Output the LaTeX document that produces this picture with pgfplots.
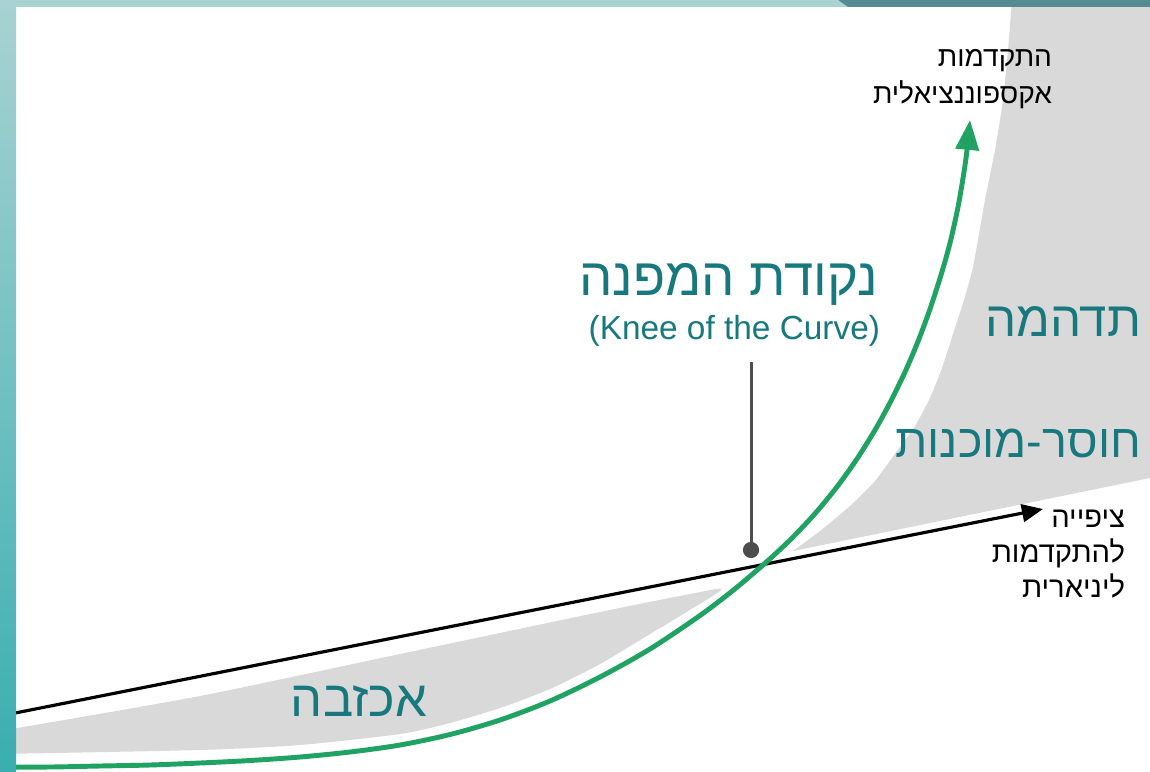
\documentclass[border=0pt]{standalone}
\usepackage{pgfplots}
\pgfplotsset{compat=1.18}
\usetikzlibrary{arrows.meta}
\usepackage{fontspec}
\setmainfont{Liberation Sans}
\newfontfamily\hebfont[Script=Hebrew]{Liberation Sans}
\TeXXeTstate=1
\newcommand{\heb}[1]{{\hebfont\beginR #1\endR}}

\definecolor{tealtext}{HTML}{17787D}
\definecolor{curvegreen}{HTML}{1FA262}
\definecolor{shade}{HTML}{D9D9D9}
\definecolor{frameA}{HTML}{A9D2D2}
\definecolor{frameB}{HTML}{3AAEB0}
\definecolor{frameC}{HTML}{558A90}
\definecolor{stem}{HTML}{4D4D4D}

\tikzset{lbl/.style={inner sep=0pt, outer sep=0pt}}

\begin{document}
\begin{tikzpicture}
\begin{axis}[
    width=11.5cm, height=7.71cm, scale only axis,
    xmin=0, xmax=1150, ymin=0, ymax=771,
    y dir=reverse,
    hide axis,
    clip=true,
]
% background
\addplot[fill=white, draw=none] coordinates {(0,0) (1150,0) (1150,771) (0,771)} -- cycle;

% gray area: disappointment (below the line)
\addplot[fill=shade, draw=none, smooth, tension=0.4] coordinates {
    (0,731) (200,696) (400,654) (600,612) (690,594) (722,589)
    (690,610) (650,634) (600,664) (550,689) (500,708) (450,723)
    (400,734) (300,745) (200,750) (0,754)
} -- cycle;

% gray area: surprise / unpreparedness (above the line)
\addplot[fill=shade, draw=none, smooth, tension=0.3] coordinates {
    (793,551) (820,531) (850,506) (875,481) (897,451) (915,426)
    (929,400) (942,368) (953,334) (964,300) (973,267) (985,200)
    (995,150) (1003,100) (1008,50) (1012,0)
} -- (axis cs:1150,0) -- (axis cs:1150,478) -- cycle;

% expectation of linear progress
\addplot[black, line width=0.9pt, -{Triangle[width=5pt,length=6pt]}]
    coordinates {(0,716) (1043,509)};

% exponential progress
\addplot[curvegreen, line width=1.4pt, smooth, tension=0.5,
    -{Triangle[width=6.5pt,length=8.5pt]}] coordinates {
    (0,767) (50,767) (100,766) (150,765) (200,763) (250,760.5)
    (300,757) (350,752) (400,745) (450,734.5) (500,720) (550,701)
    (600,677) (650,649) (700,615.5) (733,590.4) (763,565) (790,540)
    (815,513.6) (837,486.8) (857,458.8) (875,430) (890,402.7)
    (905,372) (918,341.4) (930,309) (941,275) (950,243) (958,207)
    (964,172) (967,150) (970,120)
};

% knee marker
\addplot[stem, line width=0.85pt] coordinates {(751,362) (751,548)};
\addplot[only marks, mark=*, mark size=2.1pt, color=stem] coordinates {(751,550)};

% labels
\node[lbl, anchor=base east, font=\fontsize{8}{9}\selectfont] at (axis cs:1052,67) {\heb{התקדמות}};
\node[lbl, anchor=base east, font=\fontsize{8}{9}\selectfont] at (axis cs:1052,104) {\heb{אקספוננציאלית}};

\node[lbl, anchor=base east, text=tealtext, font=\fontsize{15}{17}\selectfont] at (axis cs:878,296) {\heb{נקודת המפנה}};
\node[lbl, anchor=base east, text=tealtext, font=\fontsize{9.5}{11}\selectfont] at (axis cs:880,340) {(Knee of the Curve)};

\node[lbl, anchor=base east, text=tealtext, font=\fontsize{14}{16}\selectfont] at (axis cs:1141,337) {\heb{תדהמה}};
\node[lbl, anchor=base east, text=tealtext, font=\fontsize{13.3}{15}\selectfont] at (axis cs:1141,457) {\heb{חוסר-מוכנות}};
\node[lbl, anchor=base, text=tealtext, font=\fontsize{14.4}{16}\selectfont] at (axis cs:359,716) {\heb{אכזבה}};

\node[lbl, anchor=base east, font=\fontsize{8.3}{9}\selectfont] at (axis cs:1125,527) {\heb{ציפייה}};
\node[lbl, anchor=base east, font=\fontsize{8.3}{9}\selectfont] at (axis cs:1125,562) {\heb{להתקדמות}};
\node[lbl, anchor=base east, font=\fontsize{8.3}{9}\selectfont] at (axis cs:1125,597) {\heb{ליניארית}};

% frame
\addplot[draw=none, top color=frameA, bottom color=frameB] coordinates {(0,0) (16,0) (16,771) (0,771)} -- cycle;
\addplot[draw=none, fill=frameA] coordinates {(0,0) (838,0) (848,7) (0,7)} -- cycle;
\addplot[draw=none, fill=frameC] coordinates {(838,0) (1150,0) (1150,7) (848,7)} -- cycle;
\end{axis}
\end{tikzpicture}
\end{document}
